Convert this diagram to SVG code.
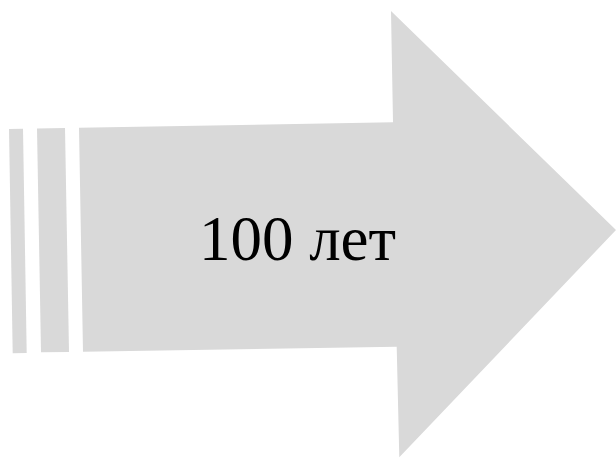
<svg xmlns="http://www.w3.org/2000/svg" width="616" height="462" viewBox="0 0 616 462">
<style>
.shape{fill:#d9d9d9;stroke:none}
.lbl{font-family:"Liberation Serif","Times New Roman",serif;font-size:63px;fill:#000}
</style>
<rect width="616" height="462" fill="#fff"/>
<g id="arrow">
<polygon class="shape" points="9,129 23,128.8 26.7,353 12.7,353.2"/>
<polygon class="shape" points="37,128.4 65,128 69,352 41,352.3"/>
<polygon class="shape" points="79,127.7 393,122.3 391,11 616,230 399.3,457.3 396.7,346.7 83,351.7"/>
<text class="lbl" x="297.5" y="260" text-anchor="middle">100 лет</text>
</g>
</svg>
